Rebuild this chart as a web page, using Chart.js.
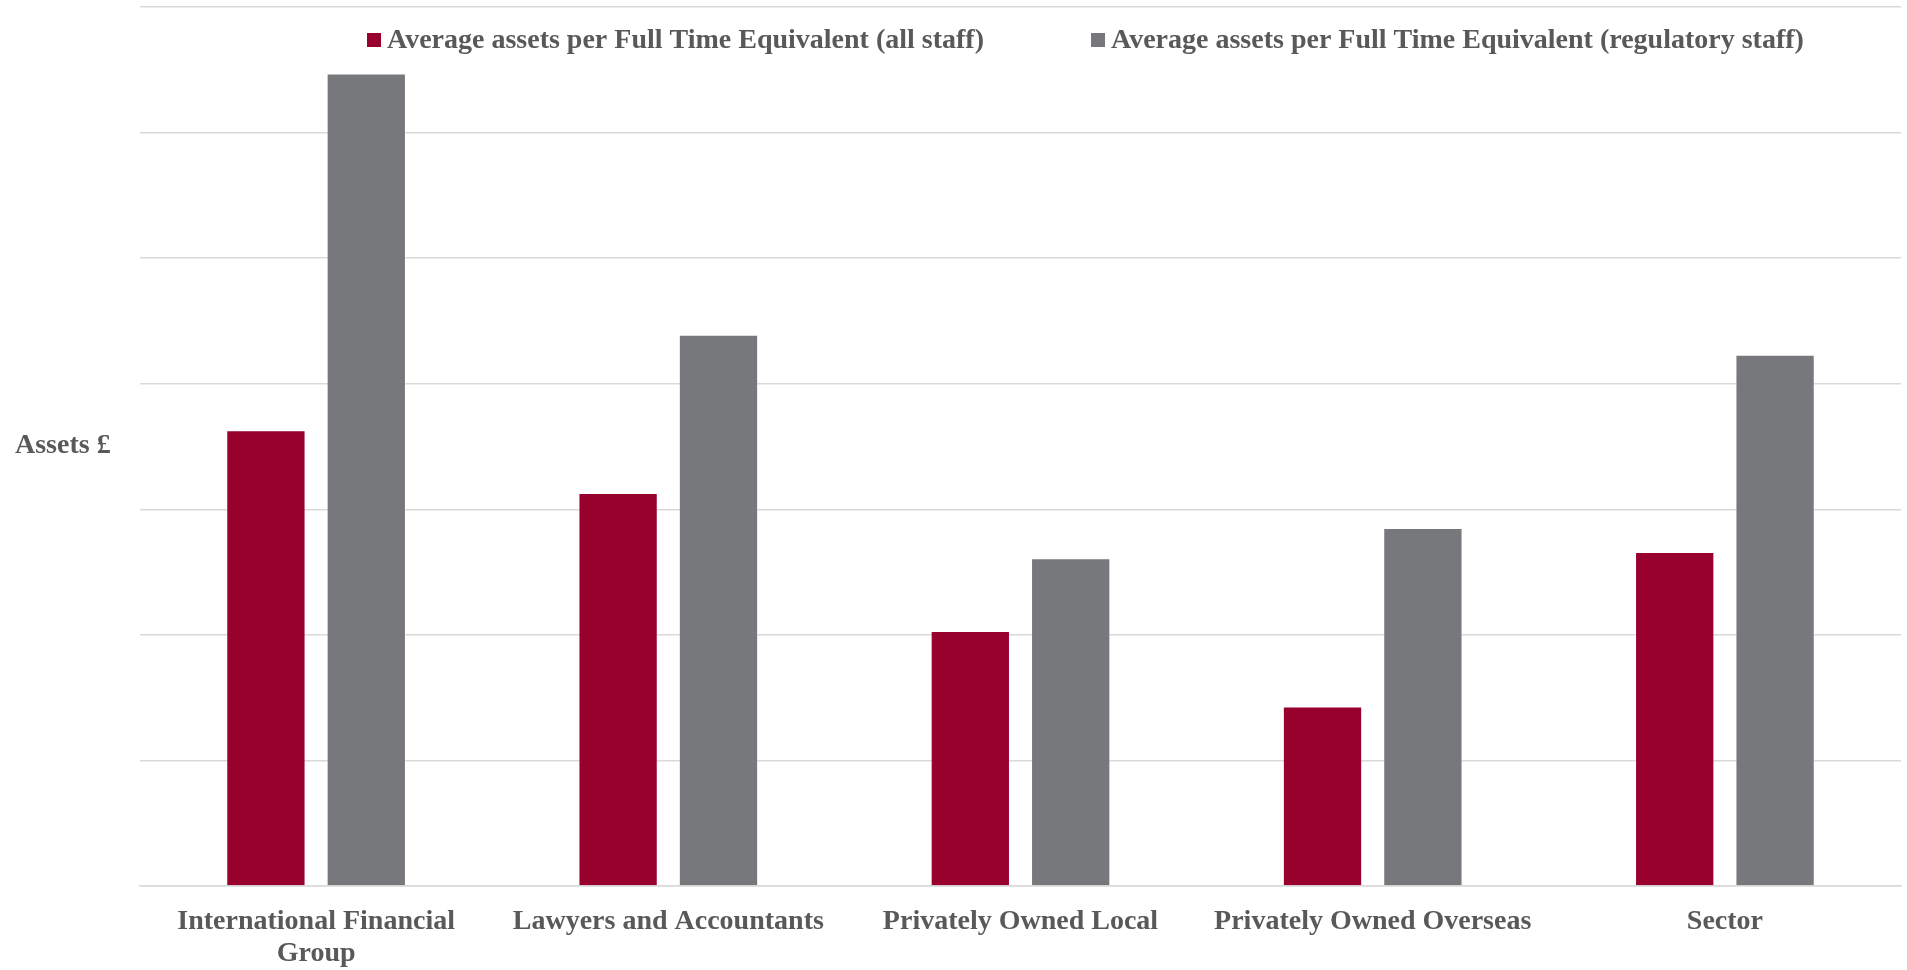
<!DOCTYPE html>
<html>
<head>
<meta charset="utf-8">
<title>Average assets per FTE</title>
<script src="https://cdn.jsdelivr.net/npm/chart.js@4"></script>
<style>
    html, body { margin: 0; padding: 0; background: #ffffff; }
    #assetsChart { display: block; }
</style>
</head>
<body>
<canvas id="assetsChart" width="1907" height="970"></canvas>
<script>
// chart data
const categories = [
    ['International Financial', 'Group'],
    'Lawyers and Accountants',
    'Privately Owned Local',
    'Privately Owned Overseas',
    'Sector'
];
const seriesNames = [
    'Average assets per Full Time Equivalent (all staff)',
    'Average assets per Full Time Equivalent (regulatory staff)'
];
// values in gridline steps (the axis carries no tick labels)
const assetsAllStaff = [3.63, 3.13, 2.03, 1.43, 2.66];
const assetsRegulatoryStaff = [6.47, 4.39, 2.61, 2.85, 4.23];
const yAxisMax = 7;

const RED = '#98002e';
const GREY = '#77787b';
const TEXT = '#595959';
const GRID = '#d9d9d9';
const FONT = "'Liberation Serif', 'Times New Roman', serif";

// legend drawn inside the plot, the way the spreadsheet placed it
const innerLegend = {
    id: 'innerLegend',
    afterDraw(chart) {
        const ctx = chart.ctx;
        const area = chart.chartArea;
        ctx.save();
        ctx.font = 'bold 28px ' + FONT;
        ctx.textBaseline = 'middle';
        ctx.textAlign = 'left';
        let x = area.left + 227;
        const y = area.top + 33;
        chart.data.datasets.forEach(ds => {
            ctx.fillStyle = ds.backgroundColor;
            ctx.fillRect(x, y - 7, 14, 14);
            ctx.fillStyle = TEXT;
            ctx.fillText(ds.label, x + 20, y + 1);
            x += 20 + ctx.measureText(ds.label).width + 107;
        });
        ctx.restore();
    }
};

// horizontal axis title on the left
const axisTitle = {
    id: 'axisTitle',
    afterDraw(chart) {
        const ctx = chart.ctx;
        const area = chart.chartArea;
        ctx.save();
        ctx.font = 'bold 28px ' + FONT;
        ctx.fillStyle = TEXT;
        ctx.textBaseline = 'middle';
        ctx.textAlign = 'left';
        ctx.fillText('Assets £', 15, (area.top + area.bottom) / 2 - 1);
        ctx.restore();
    }
};

const ctx = document.getElementById('assetsChart').getContext('2d');
window.assetsChart = new Chart(ctx, {
    type: 'bar',
    data: {
        labels: categories,
        datasets: [
            {
                label: seriesNames[0],
                data: assetsAllStaff,
                backgroundColor: RED,
                borderColor: 'rgba(255, 255, 255, 0.3)',
                borderWidth: 1
            },
            {
                label: seriesNames[1],
                data: assetsRegulatoryStaff,
                backgroundColor: GREY,
                borderColor: 'rgba(255, 255, 255, 0.3)',
                borderWidth: 1
            }
        ]
    },
    options: {
        responsive: false,
        animation: false,
        layout: {
            padding: { left: 140, right: 6, top: 7, bottom: 0 }
        },
        datasets: {
            bar: {
                categoryPercentage: 0.57,
                barPercentage: 0.79
            }
        },
        plugins: {
            legend: { display: false },
            tooltip: { enabled: false }
        },
        scales: {
            x: {
                grid: { display: false },
                border: { display: true, color: GRID, width: 1.5 },
                ticks: {
                    color: TEXT,
                    font: { family: FONT, size: 28, weight: 'bold', lineHeight: 1.14 },
                    maxRotation: 0,
                    autoSkip: false,
                    padding: 12
                },
                afterFit(scale) { scale.height = 84; }
            },
            y: {
                min: 0,
                max: yAxisMax,
                ticks: { display: false, stepSize: 1 },
                grid: { color: GRID, lineWidth: 1.5, drawTicks: false },
                border: { display: false },
                afterFit(scale) { scale.width = 0; }
            }
        }
    },
    plugins: [innerLegend, axisTitle]
});
</script>
</body>
</html>
